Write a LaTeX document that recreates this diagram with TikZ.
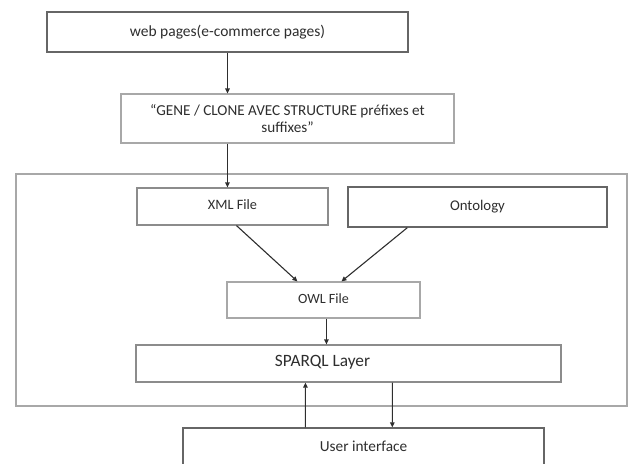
\documentclass[tikz,border=0pt]{standalone}
\usepackage{fontspec}
\setmainfont{Carlito}
\usetikzlibrary{arrows.meta,calc}

\definecolor{framegray}{HTML}{A8A8A8}
\definecolor{boxdark}{HTML}{666666}
\definecolor{boxlight}{HTML}{8C8C8C}
\definecolor{inkgray}{HTML}{2E2E2E}

\tikzset{
  stepbox/.style={draw=boxlight, line width=1.1pt, fill=white, inner sep=0pt,
                  text=inkgray, anchor=center},
  strongbox/.style={stepbox, draw=boxdark, line width=1.6pt},
  flow/.style={draw=inkgray, line width=1.1pt,
               -{Triangle[length=5pt,width=4.5pt]}},
  fs/.style={font=\fontsize{#1}{#1}\selectfont}
}

\begin{document}
\begin{tikzpicture}[x=1pt, y=-1pt]
  \useasboundingbox (0,0) rectangle (633,464);

  % outer frame around the semantic part
  \node[draw=framegray, line width=1.4pt, minimum width=611pt, minimum height=232pt,
        inner sep=0pt] (frame) at (321.5,290) {};

  % top of the pipeline
  \node[strongbox, minimum width=361pt, minimum height=40pt, fs=15.5] (web) at (227.5,32)
       {\raisebox{3pt}{web pages(e-commerce pages)}};
  \node[stepbox, draw=framegray, minimum width=333pt, minimum height=49pt,
        align=center, font=\fontsize{15.2}{17}\selectfont] (gene) at (287.5,118.5)
       {\char"201C GENE / CLONE AVEC STRUCTURE préfixes et\\suffixes\char"201D};

  % inside the frame
  \node[stepbox, minimum width=191pt, minimum height=37pt, fs=14.3] (xml) at (232.5,206.5)
       {\raisebox{3pt}{XML File}};
  \node[strongbox, line width=1.4pt, minimum width=259pt, minimum height=40pt, fs=14.8] (onto) at (477.5,207)
       {\raisebox{3pt}{Ontology}};
  \node[stepbox, draw=framegray, minimum width=193pt, minimum height=36pt, fs=14.1] (owl) at (323.5,300)
       {\raisebox{3pt}{OWL File}};
  \node[stepbox, minimum width=425pt, minimum height=37pt] (sparql) at (348.5,363.5) {};
  \node[text=inkgray, inner sep=0pt, fs=17.3] (sparqllbl) at ($(sparql.center)+(-26,-1)$)
       {SPARQL Layer};

  % user side
  \node[strongbox, line width=1.4pt, minimum width=361pt, minimum height=42pt, fs=15.3] (ui) at (363.5,449)
       {\raisebox{5pt}{User interface}};

  % connectors
  \draw[flow] (web.south) -- (web.south |- gene.north);
  \draw[flow] ($(gene.south west)+(107,0)$) -- ($(xml.north west)+(91,0)$);
  \draw[flow] ($(xml.south west)+(100,0)$) -- ($(owl.north west)+(71,0)$);
  \draw[flow] ($(onto.south west)+(60,0)$) -- ($(owl.north west)+(115,0)$);
  \draw[flow] ($(owl.south west)+(100,0)$) -- ($(sparql.north west)+(191,0)$);
  \draw[flow] ($(ui.north west)+(123,0)$) -- ($(sparql.south west)+(170,0)$);
  \draw[flow] ($(sparql.south west)+(257,0)$) -- ($(ui.north west)+(210,0)$);
\end{tikzpicture}
\end{document}
